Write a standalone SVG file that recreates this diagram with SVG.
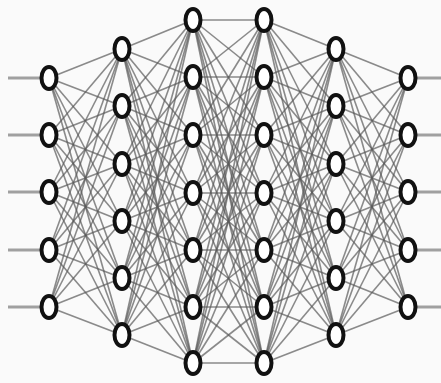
<svg xmlns="http://www.w3.org/2000/svg" width="441" height="383" viewBox="0 0 441 383">
<style>
.e{stroke:#5a5a5a;stroke-width:1.6;stroke-opacity:0.7}
.io{stroke:#a0a0a0;stroke-width:3.2}
.n{fill:#fff;stroke:#111;stroke-width:4}
</style>
<rect width="441" height="383" fill="#fafafa"/>
<g id="connectors">
<g id="io">
<line class="io" x1="8" y1="78" x2="49" y2="78"/><line class="io" x1="8" y1="135" x2="49" y2="135"/><line class="io" x1="8" y1="192" x2="49" y2="192"/><line class="io" x1="8" y1="250" x2="49" y2="250"/><line class="io" x1="8" y1="307" x2="49" y2="307"/>
<line class="io" x1="408" y1="78" x2="441" y2="78"/><line class="io" x1="408" y1="135" x2="441" y2="135"/><line class="io" x1="408" y1="192" x2="441" y2="192"/><line class="io" x1="408" y1="250" x2="441" y2="250"/><line class="io" x1="408" y1="307" x2="441" y2="307"/>
</g>
<g id="e12">
<line class="e" x1="49" y1="78" x2="122" y2="49"/><line class="e" x1="49" y1="78" x2="122" y2="106"/><line class="e" x1="49" y1="78" x2="122" y2="164"/><line class="e" x1="49" y1="78" x2="122" y2="221"/><line class="e" x1="49" y1="78" x2="122" y2="278"/><line class="e" x1="49" y1="78" x2="122" y2="335"/>
<line class="e" x1="49" y1="135" x2="122" y2="49"/><line class="e" x1="49" y1="135" x2="122" y2="106"/><line class="e" x1="49" y1="135" x2="122" y2="164"/><line class="e" x1="49" y1="135" x2="122" y2="221"/><line class="e" x1="49" y1="135" x2="122" y2="278"/><line class="e" x1="49" y1="135" x2="122" y2="335"/>
<line class="e" x1="49" y1="192" x2="122" y2="49"/><line class="e" x1="49" y1="192" x2="122" y2="106"/><line class="e" x1="49" y1="192" x2="122" y2="164"/><line class="e" x1="49" y1="192" x2="122" y2="221"/><line class="e" x1="49" y1="192" x2="122" y2="278"/><line class="e" x1="49" y1="192" x2="122" y2="335"/>
<line class="e" x1="49" y1="250" x2="122" y2="49"/><line class="e" x1="49" y1="250" x2="122" y2="106"/><line class="e" x1="49" y1="250" x2="122" y2="164"/><line class="e" x1="49" y1="250" x2="122" y2="221"/><line class="e" x1="49" y1="250" x2="122" y2="278"/><line class="e" x1="49" y1="250" x2="122" y2="335"/>
<line class="e" x1="49" y1="307" x2="122" y2="49"/><line class="e" x1="49" y1="307" x2="122" y2="106"/><line class="e" x1="49" y1="307" x2="122" y2="164"/><line class="e" x1="49" y1="307" x2="122" y2="221"/><line class="e" x1="49" y1="307" x2="122" y2="278"/><line class="e" x1="49" y1="307" x2="122" y2="335"/>
</g>
<g id="e23">
<line class="e" x1="122" y1="49" x2="193" y2="20"/><line class="e" x1="122" y1="49" x2="193" y2="77"/><line class="e" x1="122" y1="49" x2="193" y2="135"/><line class="e" x1="122" y1="49" x2="193" y2="193"/><line class="e" x1="122" y1="49" x2="193" y2="250"/><line class="e" x1="122" y1="49" x2="193" y2="307"/><line class="e" x1="122" y1="49" x2="193" y2="363"/>
<line class="e" x1="122" y1="106" x2="193" y2="20"/><line class="e" x1="122" y1="106" x2="193" y2="77"/><line class="e" x1="122" y1="106" x2="193" y2="135"/><line class="e" x1="122" y1="106" x2="193" y2="193"/><line class="e" x1="122" y1="106" x2="193" y2="250"/><line class="e" x1="122" y1="106" x2="193" y2="307"/><line class="e" x1="122" y1="106" x2="193" y2="363"/>
<line class="e" x1="122" y1="164" x2="193" y2="20"/><line class="e" x1="122" y1="164" x2="193" y2="77"/><line class="e" x1="122" y1="164" x2="193" y2="135"/><line class="e" x1="122" y1="164" x2="193" y2="193"/><line class="e" x1="122" y1="164" x2="193" y2="250"/><line class="e" x1="122" y1="164" x2="193" y2="307"/><line class="e" x1="122" y1="164" x2="193" y2="363"/>
<line class="e" x1="122" y1="221" x2="193" y2="20"/><line class="e" x1="122" y1="221" x2="193" y2="77"/><line class="e" x1="122" y1="221" x2="193" y2="135"/><line class="e" x1="122" y1="221" x2="193" y2="193"/><line class="e" x1="122" y1="221" x2="193" y2="250"/><line class="e" x1="122" y1="221" x2="193" y2="307"/><line class="e" x1="122" y1="221" x2="193" y2="363"/>
<line class="e" x1="122" y1="278" x2="193" y2="20"/><line class="e" x1="122" y1="278" x2="193" y2="77"/><line class="e" x1="122" y1="278" x2="193" y2="135"/><line class="e" x1="122" y1="278" x2="193" y2="193"/><line class="e" x1="122" y1="278" x2="193" y2="250"/><line class="e" x1="122" y1="278" x2="193" y2="307"/><line class="e" x1="122" y1="278" x2="193" y2="363"/>
<line class="e" x1="122" y1="335" x2="193" y2="20"/><line class="e" x1="122" y1="335" x2="193" y2="77"/><line class="e" x1="122" y1="335" x2="193" y2="135"/><line class="e" x1="122" y1="335" x2="193" y2="193"/><line class="e" x1="122" y1="335" x2="193" y2="250"/><line class="e" x1="122" y1="335" x2="193" y2="307"/><line class="e" x1="122" y1="335" x2="193" y2="363"/>
</g>
<g id="e34">
<line class="e" x1="193" y1="20" x2="264" y2="20"/><line class="e" x1="193" y1="20" x2="264" y2="77"/><line class="e" x1="193" y1="20" x2="264" y2="135"/><line class="e" x1="193" y1="20" x2="264" y2="193"/><line class="e" x1="193" y1="20" x2="264" y2="250"/><line class="e" x1="193" y1="20" x2="264" y2="307"/><line class="e" x1="193" y1="20" x2="264" y2="363"/>
<line class="e" x1="193" y1="77" x2="264" y2="20"/><line class="e" x1="193" y1="77" x2="264" y2="77"/><line class="e" x1="193" y1="77" x2="264" y2="135"/><line class="e" x1="193" y1="77" x2="264" y2="193"/><line class="e" x1="193" y1="77" x2="264" y2="250"/><line class="e" x1="193" y1="77" x2="264" y2="307"/><line class="e" x1="193" y1="77" x2="264" y2="363"/>
<line class="e" x1="193" y1="135" x2="264" y2="20"/><line class="e" x1="193" y1="135" x2="264" y2="77"/><line class="e" x1="193" y1="135" x2="264" y2="135"/><line class="e" x1="193" y1="135" x2="264" y2="193"/><line class="e" x1="193" y1="135" x2="264" y2="250"/><line class="e" x1="193" y1="135" x2="264" y2="307"/><line class="e" x1="193" y1="135" x2="264" y2="363"/>
<line class="e" x1="193" y1="193" x2="264" y2="20"/><line class="e" x1="193" y1="193" x2="264" y2="77"/><line class="e" x1="193" y1="193" x2="264" y2="135"/><line class="e" x1="193" y1="193" x2="264" y2="193"/><line class="e" x1="193" y1="193" x2="264" y2="250"/><line class="e" x1="193" y1="193" x2="264" y2="307"/><line class="e" x1="193" y1="193" x2="264" y2="363"/>
<line class="e" x1="193" y1="250" x2="264" y2="20"/><line class="e" x1="193" y1="250" x2="264" y2="77"/><line class="e" x1="193" y1="250" x2="264" y2="135"/><line class="e" x1="193" y1="250" x2="264" y2="193"/><line class="e" x1="193" y1="250" x2="264" y2="250"/><line class="e" x1="193" y1="250" x2="264" y2="307"/><line class="e" x1="193" y1="250" x2="264" y2="363"/>
<line class="e" x1="193" y1="307" x2="264" y2="20"/><line class="e" x1="193" y1="307" x2="264" y2="77"/><line class="e" x1="193" y1="307" x2="264" y2="135"/><line class="e" x1="193" y1="307" x2="264" y2="193"/><line class="e" x1="193" y1="307" x2="264" y2="250"/><line class="e" x1="193" y1="307" x2="264" y2="307"/><line class="e" x1="193" y1="307" x2="264" y2="363"/>
<line class="e" x1="193" y1="363" x2="264" y2="20"/><line class="e" x1="193" y1="363" x2="264" y2="77"/><line class="e" x1="193" y1="363" x2="264" y2="135"/><line class="e" x1="193" y1="363" x2="264" y2="193"/><line class="e" x1="193" y1="363" x2="264" y2="250"/><line class="e" x1="193" y1="363" x2="264" y2="307"/><line class="e" x1="193" y1="363" x2="264" y2="363"/>
</g>
<g id="e45">
<line class="e" x1="264" y1="20" x2="336" y2="49"/><line class="e" x1="264" y1="20" x2="336" y2="106"/><line class="e" x1="264" y1="20" x2="336" y2="164"/><line class="e" x1="264" y1="20" x2="336" y2="221"/><line class="e" x1="264" y1="20" x2="336" y2="278"/><line class="e" x1="264" y1="20" x2="336" y2="335"/>
<line class="e" x1="264" y1="77" x2="336" y2="49"/><line class="e" x1="264" y1="77" x2="336" y2="106"/><line class="e" x1="264" y1="77" x2="336" y2="164"/><line class="e" x1="264" y1="77" x2="336" y2="221"/><line class="e" x1="264" y1="77" x2="336" y2="278"/><line class="e" x1="264" y1="77" x2="336" y2="335"/>
<line class="e" x1="264" y1="135" x2="336" y2="49"/><line class="e" x1="264" y1="135" x2="336" y2="106"/><line class="e" x1="264" y1="135" x2="336" y2="164"/><line class="e" x1="264" y1="135" x2="336" y2="221"/><line class="e" x1="264" y1="135" x2="336" y2="278"/><line class="e" x1="264" y1="135" x2="336" y2="335"/>
<line class="e" x1="264" y1="193" x2="336" y2="49"/><line class="e" x1="264" y1="193" x2="336" y2="106"/><line class="e" x1="264" y1="193" x2="336" y2="164"/><line class="e" x1="264" y1="193" x2="336" y2="221"/><line class="e" x1="264" y1="193" x2="336" y2="278"/><line class="e" x1="264" y1="193" x2="336" y2="335"/>
<line class="e" x1="264" y1="250" x2="336" y2="49"/><line class="e" x1="264" y1="250" x2="336" y2="106"/><line class="e" x1="264" y1="250" x2="336" y2="164"/><line class="e" x1="264" y1="250" x2="336" y2="221"/><line class="e" x1="264" y1="250" x2="336" y2="278"/><line class="e" x1="264" y1="250" x2="336" y2="335"/>
<line class="e" x1="264" y1="307" x2="336" y2="49"/><line class="e" x1="264" y1="307" x2="336" y2="106"/><line class="e" x1="264" y1="307" x2="336" y2="164"/><line class="e" x1="264" y1="307" x2="336" y2="221"/><line class="e" x1="264" y1="307" x2="336" y2="278"/><line class="e" x1="264" y1="307" x2="336" y2="335"/>
<line class="e" x1="264" y1="363" x2="336" y2="49"/><line class="e" x1="264" y1="363" x2="336" y2="106"/><line class="e" x1="264" y1="363" x2="336" y2="164"/><line class="e" x1="264" y1="363" x2="336" y2="221"/><line class="e" x1="264" y1="363" x2="336" y2="278"/><line class="e" x1="264" y1="363" x2="336" y2="335"/>
</g>
<g id="e56">
<line class="e" x1="336" y1="49" x2="408" y2="78"/><line class="e" x1="336" y1="49" x2="408" y2="135"/><line class="e" x1="336" y1="49" x2="408" y2="192"/><line class="e" x1="336" y1="49" x2="408" y2="250"/><line class="e" x1="336" y1="49" x2="408" y2="307"/>
<line class="e" x1="336" y1="106" x2="408" y2="78"/><line class="e" x1="336" y1="106" x2="408" y2="135"/><line class="e" x1="336" y1="106" x2="408" y2="192"/><line class="e" x1="336" y1="106" x2="408" y2="250"/><line class="e" x1="336" y1="106" x2="408" y2="307"/>
<line class="e" x1="336" y1="164" x2="408" y2="78"/><line class="e" x1="336" y1="164" x2="408" y2="135"/><line class="e" x1="336" y1="164" x2="408" y2="192"/><line class="e" x1="336" y1="164" x2="408" y2="250"/><line class="e" x1="336" y1="164" x2="408" y2="307"/>
<line class="e" x1="336" y1="221" x2="408" y2="78"/><line class="e" x1="336" y1="221" x2="408" y2="135"/><line class="e" x1="336" y1="221" x2="408" y2="192"/><line class="e" x1="336" y1="221" x2="408" y2="250"/><line class="e" x1="336" y1="221" x2="408" y2="307"/>
<line class="e" x1="336" y1="278" x2="408" y2="78"/><line class="e" x1="336" y1="278" x2="408" y2="135"/><line class="e" x1="336" y1="278" x2="408" y2="192"/><line class="e" x1="336" y1="278" x2="408" y2="250"/><line class="e" x1="336" y1="278" x2="408" y2="307"/>
<line class="e" x1="336" y1="335" x2="408" y2="78"/><line class="e" x1="336" y1="335" x2="408" y2="135"/><line class="e" x1="336" y1="335" x2="408" y2="192"/><line class="e" x1="336" y1="335" x2="408" y2="250"/><line class="e" x1="336" y1="335" x2="408" y2="307"/>
</g>
</g>
<g id="layer1">
<g id="n1_1"><ellipse class="n" cx="49" cy="78" rx="7.5" ry="11"/></g>
<g id="n1_2"><ellipse class="n" cx="49" cy="135" rx="7.5" ry="11"/></g>
<g id="n1_3"><ellipse class="n" cx="49" cy="192" rx="7.5" ry="11"/></g>
<g id="n1_4"><ellipse class="n" cx="49" cy="250" rx="7.5" ry="11"/></g>
<g id="n1_5"><ellipse class="n" cx="49" cy="307" rx="7.5" ry="11"/></g>
</g>
<g id="layer2">
<g id="n2_1"><ellipse class="n" cx="122" cy="49" rx="7.5" ry="11"/></g>
<g id="n2_2"><ellipse class="n" cx="122" cy="106" rx="7.5" ry="11"/></g>
<g id="n2_3"><ellipse class="n" cx="122" cy="164" rx="7.5" ry="11"/></g>
<g id="n2_4"><ellipse class="n" cx="122" cy="221" rx="7.5" ry="11"/></g>
<g id="n2_5"><ellipse class="n" cx="122" cy="278" rx="7.5" ry="11"/></g>
<g id="n2_6"><ellipse class="n" cx="122" cy="335" rx="7.5" ry="11"/></g>
</g>
<g id="layer3">
<g id="n3_1"><ellipse class="n" cx="193" cy="20" rx="7.5" ry="11"/></g>
<g id="n3_2"><ellipse class="n" cx="193" cy="77" rx="7.5" ry="11"/></g>
<g id="n3_3"><ellipse class="n" cx="193" cy="135" rx="7.5" ry="11"/></g>
<g id="n3_4"><ellipse class="n" cx="193" cy="193" rx="7.5" ry="11"/></g>
<g id="n3_5"><ellipse class="n" cx="193" cy="250" rx="7.5" ry="11"/></g>
<g id="n3_6"><ellipse class="n" cx="193" cy="307" rx="7.5" ry="11"/></g>
<g id="n3_7"><ellipse class="n" cx="193" cy="363" rx="7.5" ry="11"/></g>
</g>
<g id="layer4">
<g id="n4_1"><ellipse class="n" cx="264" cy="20" rx="7.5" ry="11"/></g>
<g id="n4_2"><ellipse class="n" cx="264" cy="77" rx="7.5" ry="11"/></g>
<g id="n4_3"><ellipse class="n" cx="264" cy="135" rx="7.5" ry="11"/></g>
<g id="n4_4"><ellipse class="n" cx="264" cy="193" rx="7.5" ry="11"/></g>
<g id="n4_5"><ellipse class="n" cx="264" cy="250" rx="7.5" ry="11"/></g>
<g id="n4_6"><ellipse class="n" cx="264" cy="307" rx="7.5" ry="11"/></g>
<g id="n4_7"><ellipse class="n" cx="264" cy="363" rx="7.5" ry="11"/></g>
</g>
<g id="layer5">
<g id="n5_1"><ellipse class="n" cx="336" cy="49" rx="7.5" ry="11"/></g>
<g id="n5_2"><ellipse class="n" cx="336" cy="106" rx="7.5" ry="11"/></g>
<g id="n5_3"><ellipse class="n" cx="336" cy="164" rx="7.5" ry="11"/></g>
<g id="n5_4"><ellipse class="n" cx="336" cy="221" rx="7.5" ry="11"/></g>
<g id="n5_5"><ellipse class="n" cx="336" cy="278" rx="7.5" ry="11"/></g>
<g id="n5_6"><ellipse class="n" cx="336" cy="335" rx="7.5" ry="11"/></g>
</g>
<g id="layer6">
<g id="n6_1"><ellipse class="n" cx="408" cy="78" rx="7.5" ry="11"/></g>
<g id="n6_2"><ellipse class="n" cx="408" cy="135" rx="7.5" ry="11"/></g>
<g id="n6_3"><ellipse class="n" cx="408" cy="192" rx="7.5" ry="11"/></g>
<g id="n6_4"><ellipse class="n" cx="408" cy="250" rx="7.5" ry="11"/></g>
<g id="n6_5"><ellipse class="n" cx="408" cy="307" rx="7.5" ry="11"/></g>
</g>
</svg>
